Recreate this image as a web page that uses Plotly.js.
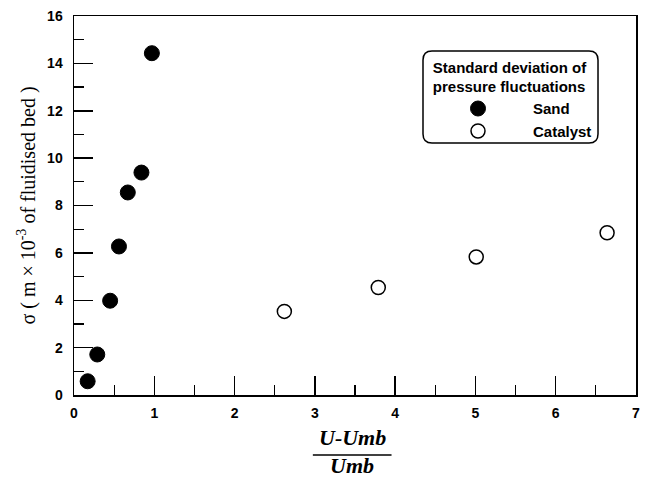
<!DOCTYPE html>
<html>
<head>
<meta charset="utf-8">
<script src="https://cdn.plot.ly/plotly-3.0.1.min.js"></script>
<style>html,body{margin:0;padding:0;background:#fff;}#chart{width:653px;height:479px;}</style>
</head>
<body>
<div id="chart"></div>
<script>
// Data
const sandX = [0.17, 0.29, 0.45, 0.56, 0.67, 0.84, 0.97];
const sandY = [0.58, 1.71, 3.98, 6.27, 8.55, 9.39, 14.43];
const catX = [2.62, 3.79, 5.01, 6.64];
const catY = [3.53, 4.54, 5.83, 6.85];
const seriesNames = ['Sand', 'Catalyst'];
const legendTitle = 'Standard deviation of<br>pressure fluctuations';
const xTitleTop = 'U-Umb';
const xTitleBottom = 'Umb';
const yTitle = 'σ ( m × 10<sup>-3</sup> of fluidised bed )';

const sans = 'Liberation Sans, Arial, sans-serif';
const serif = 'Liberation Serif, Times New Roman, serif';

const traces = [
  {x: sandX, y: sandY, name: seriesNames[0], type: 'scatter', mode: 'markers',
   marker: {symbol: 'circle', size: 15, color: '#000', line: {color: '#000', width: 1}}},
  {x: catX, y: catY, name: seriesNames[1], type: 'scatter', mode: 'markers',
   marker: {symbol: 'circle', size: 14, color: '#fff', line: {color: '#000', width: 1.5}}}
];

// legend box (paper coords)
const bx0 = 0.621, bx1 = 0.9324, by0 = 0.665, by1 = 0.9077;
const rx = 9/562, ry = 9/379;
const boxPath = `M ${bx0+rx},${by1} L ${bx1-rx},${by1} Q ${bx1},${by1} ${bx1},${by1-ry} L ${bx1},${by0+ry} Q ${bx1},${by0} ${bx1-rx},${by0} L ${bx0+rx},${by0} Q ${bx0},${by0} ${bx0},${by0+ry} L ${bx0},${by1-ry} Q ${bx0},${by1} ${bx0+rx},${by1} Z`;

const layout = {
  width: 653, height: 479,
  margin: {l: 74, r: 17, t: 16, b: 84, pad: 0},
  paper_bgcolor: '#fff', plot_bgcolor: '#fff',
  showlegend: true,
  xaxis: {
    range: [0, 7], dtick: 1, tick0: 0, ticks: 'inside', ticklen: 19, tickwidth: 1.5, tickcolor: '#000',
    minor: {dtick: 0.5, ticks: 'inside', ticklen: 10, tickwidth: 1.2, tickcolor: '#000'},
    showline: true, linecolor: '#000', linewidth: 1.5, mirror: true,
    showgrid: false, zeroline: false,
    tickfont: {family: sans, size: 14, color: '#000', weight: 'bold'},
    ticklabelstandoff: 5
  },
  yaxis: {
    range: [0, 16], dtick: 2, tick0: 0, ticks: 'inside', ticklen: 19, tickwidth: 1.5, tickcolor: '#000',
    minor: {dtick: 1, ticks: 'inside', ticklen: 10, tickwidth: 1.2, tickcolor: '#000'},
    showline: true, linecolor: '#000', linewidth: 1.5, mirror: true,
    showgrid: false, zeroline: false,
    tickfont: {family: sans, size: 14, color: '#000', weight: 'bold'},
    ticklabelstandoff: 7,
    title: {text: yTitle, font: {family: serif, size: 20, color: '#000'}, standoff: 6}
  },
  legend: {
    x: bx0, y: by1 - 0.006, xanchor: 'left', yanchor: 'top',
    bgcolor: 'rgba(0,0,0,0)', borderwidth: 0,
    font: {family: sans, size: 15, color: '#000', weight: 'bold'},
    title: {text: legendTitle, side: 'top center', font: {family: sans, size: 15, color: '#000', weight: 'bold'}},
    itemwidth: 100, tracegroupgap: 0
  },
  shapes: [
    {type: 'path', xref: 'paper', yref: 'paper', path: boxPath, line: {color: '#000', width: 1.5}, fillcolor: 'rgba(0,0,0,0)', layer: 'below'},
    {type: 'line', xref: 'paper', yref: 'paper', x0: 0.425, x1: 0.565, y0: -0.158, y1: -0.158, line: {color: '#000', width: 1.5}}
  ],
  annotations: [
    {xref: 'paper', yref: 'paper', x: 0.495, y: -0.111, text: '<b><i>' + xTitleTop + '</i></b>', showarrow: false,
     font: {family: serif, size: 22, color: '#000'}, xanchor: 'center', yanchor: 'middle'},
    {xref: 'paper', yref: 'paper', x: 0.495, y: -0.187, text: '<b><i>' + xTitleBottom + '</i></b>', showarrow: false,
     font: {family: serif, size: 22, color: '#000'}, xanchor: 'center', yanchor: 'middle'}
  ]
};

Plotly.newPlot('chart', traces, layout, {displayModeBar: false, staticPlot: true});
</script>
</body>
</html>
